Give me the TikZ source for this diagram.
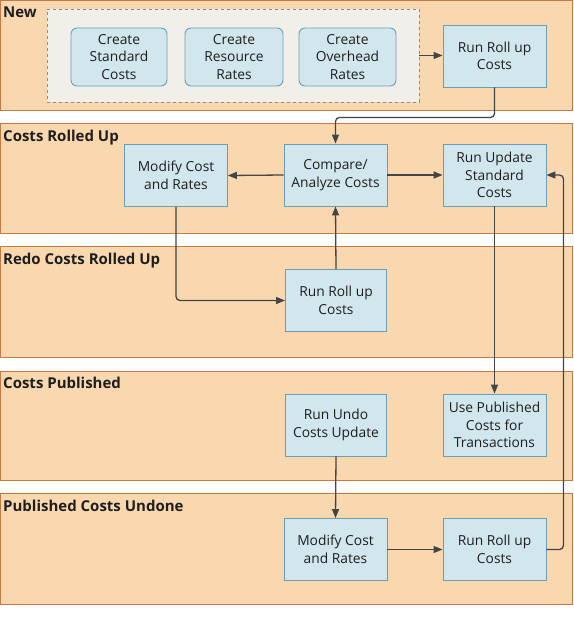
\documentclass[tikz,border=0pt]{standalone}
\usepackage{fontspec}
\setmainfont{Open Sans}
\usetikzlibrary{arrows.meta,positioning}
\definecolor{lanefill}{HTML}{F9D8B0}
\definecolor{laneline}{HTML}{C57A45}
\definecolor{boxfill}{HTML}{D2E6EE}
\definecolor{boxline}{HTML}{6C9DB3}
\definecolor{grpfill}{HTML}{F1EFEA}
\definecolor{grpline}{HTML}{8A8A8A}
\definecolor{arr}{HTML}{444444}
\definecolor{txt}{HTML}{1E1E1E}
\tikzset{
  lane/.style={draw=laneline, fill=lanefill, line width=1pt},
  lanelabel/.style={anchor=base west, inner sep=0pt, font=\fontsize{15}{17}\selectfont\bfseries, text=txt},
  stepbox/.style={draw=boxline, fill=boxfill, line width=0.9pt, minimum width=103pt, minimum height=62pt, align=center, inner sep=1pt, font=\fontsize{13.8}{17.5}\selectfont, text=txt},
  roundbox/.style={stepbox, rounded corners=6pt, minimum width=97pt, minimum height=58pt},
  grp/.style={draw=grpline, fill=grpfill, dashed, line width=0.8pt},
  flow/.style={draw=arr, line width=1.3pt, -{Triangle[length=9pt,width=7pt]}, rounded corners=4pt}
}
\begin{document}
\begin{tikzpicture}[x=1pt,y=-1pt]
\useasboundingbox (0,0) rectangle (573,621);
% lanes
\draw[lane] (0.5,0.5) rectangle (572,110);
\draw[lane] (0.5,123) rectangle (572,233);
\draw[lane] (0.5,246) rectangle (572,357);
\draw[lane] (0.5,371) rectangle (572,480);
\draw[lane] (0.5,493) rectangle (572,604);
\node[lanelabel] (l1) at (3,17.5) {New};
\node[lanelabel] (l2) at (3,141) {Costs Rolled Up};
\node[lanelabel] (l3) at (3,264) {Redo Costs Rolled Up};
\node[lanelabel] (l4) at (3,388) {Costs Published};
\node[lanelabel] (l5) at (3,511) {Published Costs Undone};
% group
\node[grp, minimum width=372pt, minimum height=93pt, inner sep=0pt] (grp) at (233,55.5) {};
\node[roundbox, minimum width=96pt] (cs) at (119,57) {Create\\Standard\\Costs};
\node[roundbox, minimum width=98pt] (cr) at (234,57) {Create\\Resource\\Rates};
\node[roundbox] (co) at (347.5,57) {Create\\Overhead\\Rates};
\node[stepbox] (rr1) at (494.5,56) {Run Roll up\\Costs};
% lane 2
\node[stepbox] (cmp) at (335.5,175) {Compare/\\Analyze Costs};
\node[stepbox] (ru) at (494.5,175) {Run Update\\Standard\\Costs};
\node[stepbox] (mod1) at (176,175.5) {Modify Cost\\and Rates};
% lane 3
\node[stepbox, minimum width=101pt] (rr2) at (336,300.5) {Run Roll up\\Costs};
% lane 4
\node[stepbox, minimum width=101pt] (undo) at (336,425) {Run Undo\\Costs Update};
\node[stepbox] (use) at (494.5,425) {Use Published\\Costs for\\Transactions};
% lane 5
\node[stepbox] (mod2) at (335.5,549.5) {Modify Cost\\and Rates};
\node[stepbox] (rr3) at (494.5,549.5) {Run Roll up\\Costs};
% connectors
\draw[flow] (grp.east) -- (rr1.west|-grp.east);
\draw[flow] (rr1.south) -- ++(0,30) -| (cmp.north);
\draw[flow] (cmp.west) -- (mod1.east);
\draw[flow] (cmp.east) -- (ru.west);
\draw[flow] (mod1.south) |- (rr2.west);
\draw[flow] (rr2.north) -- (cmp.south);
\draw[flow] (ru.south) -- (use.north);
\draw[flow] (undo.south) -- (mod2.north);
\draw[flow] (mod2.east) -- (rr3.west);
\draw[flow] (rr3.east) -- ++(17,0) |- (ru.east);
\end{tikzpicture}
\end{document}
